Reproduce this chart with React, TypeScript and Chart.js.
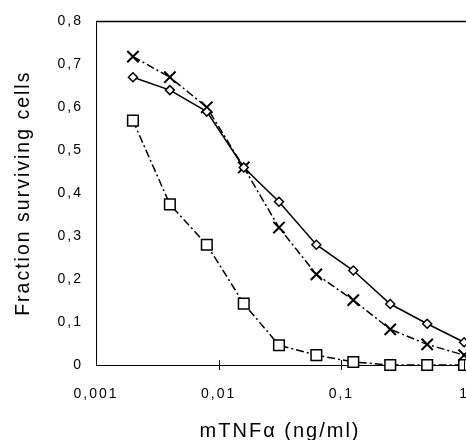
import { useEffect, useRef } from 'react';
import { Chart, registerables } from 'chart.js';

Chart.register(...registerables);

const concentrations = [0.002, 0.004, 0.008, 0.016, 0.031, 0.0625, 0.125, 0.25, 0.5, 1];
const diamondSeries = [0.67, 0.64, 0.59, 0.46, 0.38, 0.28, 0.22, 0.142, 0.096, 0.053];
const crossSeries = [0.718, 0.67, 0.6, 0.46, 0.32, 0.211, 0.151, 0.083, 0.048, 0.023];
const squareSeries = [0.569, 0.374, 0.28, 0.143, 0.046, 0.023, 0.007, 0.0, 0.0, 0.0];
const xTickValues = [0.001, 0.01, 0.1, 1];
const xTickLabels = ['0,001', '0,01', '0,1', '1'];
const yTickLabels = ['0', '0,1', '0,2', '0,3', '0,4', '0,5', '0,6', '0,7', '0,8'];

const FONT = '"Liberation Sans", Arial, sans-serif';

const decorPlugin = {
  id: 'decor',
  beforeLayout(chart: any) {
    chart.ctx.letterSpacing = '2px';
  },
  beforeDraw(chart: any) {
    chart.ctx.letterSpacing = '2px';
  },
  afterDraw(chart: any) {
    const { ctx, chartArea, scales } = chart;
    ctx.save();
    ctx.strokeStyle = '#000';
    ctx.lineWidth = 1.5;
    ctx.beginPath();
    ctx.moveTo(chartArea.left, chartArea.top);
    ctx.lineTo(chartArea.right + 5, chartArea.top);
    ctx.stroke();
    ctx.lineWidth = 1;
    for (const v of xTickValues.slice(1)) {
      const x = Math.round(scales.x.getPixelForValue(v)) + 0.5;
      ctx.beginPath();
      ctx.moveTo(x, chartArea.bottom - 5);
      ctx.lineTo(x, chartArea.bottom + 5);
      ctx.stroke();
    }
    ctx.restore();
  },
};

function toPoints(values: number[]) {
  return concentrations.map((x, i) => ({ x, y: values[i] }));
}

export default function App() {
  const ref = useRef<HTMLCanvasElement | null>(null);

  useEffect(() => {
    const canvas = ref.current;
    if (!canvas) return;
    const chart = new Chart(canvas, {
      type: 'line',
      data: {
        datasets: [
          {
            label: 'diamonds',
            data: toPoints(diamondSeries),
            borderColor: '#000',
            backgroundColor: '#fff',
            borderWidth: 1.5,
            pointStyle: 'rectRot',
            pointRadius: 4.5,
            pointBorderWidth: 1.5,
            pointBackgroundColor: '#fff',
            pointBorderColor: '#000',
            clip: false as any,
          },
          {
            label: 'crosses',
            data: toPoints(crossSeries),
            borderColor: '#000',
            borderWidth: 1.5,
            borderDash: [8, 3, 2, 3],
            pointStyle: 'crossRot',
            pointRadius: 8,
            pointBorderWidth: 2,
            pointBorderColor: '#000',
            clip: false as any,
          },
          {
            label: 'squares',
            data: toPoints(squareSeries),
            borderColor: '#000',
            borderWidth: 1.5,
            borderDash: [8, 3, 2, 3],
            pointStyle: 'rect',
            pointRadius: 7.5,
            pointBorderWidth: 1.5,
            pointBackgroundColor: '#fff',
            pointBorderColor: '#000',
            clip: false as any,
          },
        ],
      },
      options: {
        animation: false,
        responsive: false,
        maintainAspectRatio: false,
        events: [],
        layout: { padding: { top: 16, right: 20, left: 0, bottom: 0 } },
        plugins: {
          legend: { display: false },
          tooltip: { enabled: false },
        },
        scales: {
          x: {
            type: 'logarithmic',
            min: 0.001,
            max: 1,
            afterBuildTicks: (scale: any) => {
              scale.ticks = xTickValues.map((value) => ({ value }));
            },
            afterFit: (scale: any) => {
              scale.height = 85;
            },
            ticks: {
              autoSkip: false,
              maxRotation: 0,
              padding: 21,
              color: '#000',
              font: { family: FONT, size: 14 },
              callback: (value: any) => {
                const i = xTickValues.findIndex((v) => Math.abs(v - Number(value)) < 1e-9);
                return i >= 0 ? xTickLabels[i] : '';
              },
            },
            grid: { display: false, drawTicks: false },
            border: { display: true, color: '#000', width: 1 },
            title: {
              display: true,
              text: 'mTNFα (ng/ml)',
              color: '#000',
              font: { family: FONT, size: 20 },
              padding: { top: 0, bottom: 7 },
            },
          },
          y: {
            type: 'linear',
            min: 0,
            max: 0.8,
            afterFit: (scale: any) => {
              scale.width = 96;
            },
            ticks: {
              stepSize: 0.1,
              padding: 13,
              color: '#000',
              font: { family: FONT, size: 14 },
              callback: (value: any) => {
                const i = Math.round(Number(value) * 10);
                return yTickLabels[i] ?? '';
              },
            },
            grid: { display: false, drawTicks: false },
            border: { display: true, color: '#000', width: 1 },
            title: {
              display: true,
              text: 'Fraction surviving cells',
              color: '#000',
              font: { family: FONT, size: 19.5 },
              padding: { top: 12, bottom: 0 },
            },
          },
        },
      },
      plugins: [decorPlugin],
    } as any);
    return () => chart.destroy();
  }, []);

  return (
    <div
      style={{
        position: 'absolute',
        left: 0,
        top: 0,
        width: 466,
        height: 440,
        overflow: 'hidden',
        background: '#fff',
      }}
    >
      <canvas ref={ref} width={490} height={450} style={{ display: 'block', width: 490, height: 450 }} />
    </div>
  );
}
